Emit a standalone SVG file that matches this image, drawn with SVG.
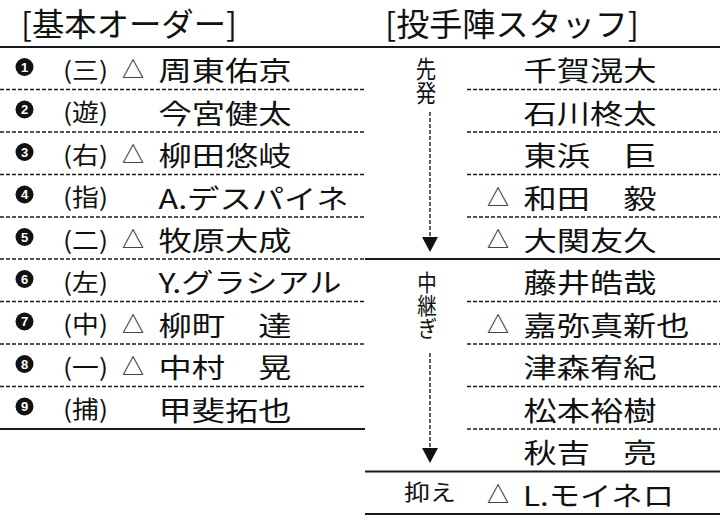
<svg xmlns="http://www.w3.org/2000/svg" width="720" height="520" viewBox="0 0 720 520">
<style>
text{font-family:"Noto Sans CJK JP","Noto Sans",sans-serif;fill:#111}
.hd{font-size:32px}
.nm{font-size:27px}
.ps{font-size:24px}
.tri{font-size:22px}
.vt{writing-mode:vertical-rl}
.dg{font-family:"Liberation Sans","DejaVu Sans",sans-serif;font-weight:bold;font-size:13px;fill:#ffffff;text-anchor:middle}
.sol{stroke:#1a1a1a;stroke-width:2;fill:none}
.dsh{stroke:#1a1a1a;stroke-width:1.4;stroke-dasharray:4 2;fill:none}
.ah{fill:#111}
</style>
<rect width="720" height="520" fill="#fff"/>

<g id="headers">
<text class="hd" x="21" y="36" textLength="216" lengthAdjust="spacingAndGlyphs">[基本オーダー]</text>
<text class="hd" x="385" y="36" textLength="254" lengthAdjust="spacingAndGlyphs">[投手陣スタッフ]</text>
</g>

<g id="rules">
<line class="sol" x1="0" y1="47" x2="720" y2="47"/>
<line class="dsh" x1="0" y1="89.5" x2="365" y2="89.5"/>
<line class="dsh" x1="0" y1="132" x2="365" y2="132"/>
<line class="dsh" x1="0" y1="174.5" x2="365" y2="174.5"/>
<line class="dsh" x1="0" y1="217" x2="365" y2="217"/>
<line class="dsh" x1="0" y1="259" x2="365" y2="259"/>
<line class="dsh" x1="0" y1="301.5" x2="365" y2="301.5"/>
<line class="dsh" x1="0" y1="344" x2="365" y2="344"/>
<line class="dsh" x1="0" y1="386.5" x2="365" y2="386.5"/>
<line class="sol" x1="0" y1="429" x2="365" y2="429"/>
<line class="dsh" x1="467" y1="89.5" x2="720" y2="89.5"/>
<line class="dsh" x1="467" y1="132" x2="720" y2="132"/>
<line class="dsh" x1="467" y1="174.5" x2="720" y2="174.5"/>
<line class="dsh" x1="467" y1="217" x2="720" y2="217"/>
<line class="sol" x1="365" y1="259" x2="720" y2="259"/>
<line class="dsh" x1="467" y1="301.5" x2="720" y2="301.5"/>
<line class="dsh" x1="467" y1="344" x2="720" y2="344"/>
<line class="dsh" x1="467" y1="386.5" x2="720" y2="386.5"/>
<line class="dsh" x1="467" y1="429" x2="720" y2="429"/>
<line class="sol" x1="365" y1="471.5" x2="720" y2="471.5"/>
<line class="sol" x1="365" y1="514" x2="720" y2="514"/>
</g>

<g id="bat1"><circle fill="#111" cx="24.5" cy="67" r="9"/><text class="dg" x="24.5" y="71.7">1</text><text class="ps" x="63" y="78.5" textLength="45" lengthAdjust="spacingAndGlyphs">(三)</text><text class="tri" x="122" y="77">△</text><text class="nm" x="158.5" y="81" textLength="133" lengthAdjust="spacingAndGlyphs">周東佑京</text></g>
<g id="bat2"><circle fill="#111" cx="24.5" cy="109.5" r="9"/><text class="dg" x="24.5" y="114.2">2</text><text class="ps" x="63" y="121" textLength="45" lengthAdjust="spacingAndGlyphs">(遊)</text><text class="nm" x="158.5" y="123.5" textLength="133" lengthAdjust="spacingAndGlyphs">今宮健太</text></g>
<g id="bat3"><circle fill="#111" cx="24.5" cy="152" r="9"/><text class="dg" x="24.5" y="156.7">3</text><text class="ps" x="63" y="163.5" textLength="45" lengthAdjust="spacingAndGlyphs">(右)</text><text class="tri" x="122" y="162">△</text><text class="nm" x="158.5" y="166" textLength="133" lengthAdjust="spacingAndGlyphs">柳田悠岐</text></g>
<g id="bat4"><circle fill="#111" cx="24.5" cy="194.5" r="9"/><text class="dg" x="24.5" y="199.2">4</text><text class="ps" x="63" y="206" textLength="45" lengthAdjust="spacingAndGlyphs">(指)</text><text class="nm" x="158.5" y="208.5" textLength="190" lengthAdjust="spacingAndGlyphs">A.デスパイネ</text></g>
<g id="bat5"><circle fill="#111" cx="24.5" cy="237" r="9"/><text class="dg" x="24.5" y="241.7">5</text><text class="ps" x="63" y="248.5" textLength="45" lengthAdjust="spacingAndGlyphs">(二)</text><text class="tri" x="122" y="247">△</text><text class="nm" x="158.5" y="251" textLength="133" lengthAdjust="spacingAndGlyphs">牧原大成</text></g>
<g id="bat6"><circle fill="#111" cx="24.5" cy="279" r="9"/><text class="dg" x="24.5" y="283.7">6</text><text class="ps" x="63" y="290.5" textLength="45" lengthAdjust="spacingAndGlyphs">(左)</text><text class="nm" x="158.5" y="293" textLength="183" lengthAdjust="spacingAndGlyphs">Y.グラシアル</text></g>
<g id="bat7"><circle fill="#111" cx="24.5" cy="321.5" r="9"/><text class="dg" x="24.5" y="326.2">7</text><text class="ps" x="63" y="333" textLength="45" lengthAdjust="spacingAndGlyphs">(中)</text><text class="tri" x="122" y="331.5">△</text><text class="nm" x="158.5" y="335.5" textLength="133" lengthAdjust="spacingAndGlyphs">柳町　達</text></g>
<g id="bat8"><circle fill="#111" cx="24.5" cy="364" r="9"/><text class="dg" x="24.5" y="368.7">8</text><text class="ps" x="63" y="375.5" textLength="45" lengthAdjust="spacingAndGlyphs">(一)</text><text class="tri" x="122" y="374">△</text><text class="nm" x="158.5" y="378" textLength="133" lengthAdjust="spacingAndGlyphs">中村　晃</text></g>
<g id="bat9"><circle fill="#111" cx="24.5" cy="406.5" r="9"/><text class="dg" x="24.5" y="411.2">9</text><text class="ps" x="63" y="418" textLength="45" lengthAdjust="spacingAndGlyphs">(捕)</text><text class="nm" x="158.5" y="420.5" textLength="133" lengthAdjust="spacingAndGlyphs">甲斐拓也</text></g>

<g id="label-senpatsu"><text class="vt" transform="translate(426,57) scale(0.85,1)" x="0" y="0" font-size="24">先発</text></g>
<g id="label-nakatsugi"><text class="vt" transform="translate(427,271) scale(0.85,1)" x="0" y="0" font-size="23">中継ぎ</text></g>
<g id="label-osae"><text class="tri" x="404" y="500" textLength="52" lengthAdjust="spacingAndGlyphs">抑え</text></g>

<g id="pit1"><text class="nm" x="523.5" y="81" textLength="133" lengthAdjust="spacingAndGlyphs">千賀滉大</text></g>
<g id="pit2"><text class="nm" x="523.5" y="123.5" textLength="133" lengthAdjust="spacingAndGlyphs">石川柊太</text></g>
<g id="pit3"><text class="nm" x="523.5" y="166" textLength="133" lengthAdjust="spacingAndGlyphs">東浜　巨</text></g>
<g id="pit4"><text class="tri" x="487" y="204.5">△</text><text class="nm" x="523.5" y="208.5" textLength="133" lengthAdjust="spacingAndGlyphs">和田　毅</text></g>
<g id="pit5"><text class="tri" x="487" y="247">△</text><text class="nm" x="523.5" y="251" textLength="133" lengthAdjust="spacingAndGlyphs">大関友久</text></g>
<g id="pit6"><text class="nm" x="523.5" y="293" textLength="133" lengthAdjust="spacingAndGlyphs">藤井皓哉</text></g>
<g id="pit7"><text class="tri" x="487" y="331.5">△</text><text class="nm" x="523.5" y="335.5" textLength="166" lengthAdjust="spacingAndGlyphs">嘉弥真新也</text></g>
<g id="pit8"><text class="nm" x="523.5" y="378" textLength="133" lengthAdjust="spacingAndGlyphs">津森宥紀</text></g>
<g id="pit9"><text class="nm" x="523.5" y="420.5" textLength="133" lengthAdjust="spacingAndGlyphs">松本裕樹</text></g>
<g id="pit10"><text class="nm" x="523.5" y="463" textLength="133" lengthAdjust="spacingAndGlyphs">秋吉　亮</text></g>
<g id="pit11"><text class="tri" x="487" y="501.5">△</text><text class="nm" x="523" y="505.5" textLength="151" lengthAdjust="spacingAndGlyphs">L.モイネロ</text></g>

<g id="connectors">
<line class="dsh" x1="430" y1="112" x2="430" y2="237" stroke-dasharray="3 2"/>
<polygon class="ah" points="422,237 438,237 430,252"/>
<line class="dsh" x1="430" y1="353" x2="430" y2="448" stroke-dasharray="3 2"/>
<polygon class="ah" points="422,448 438,448 430,463"/>
</g>
</svg>
